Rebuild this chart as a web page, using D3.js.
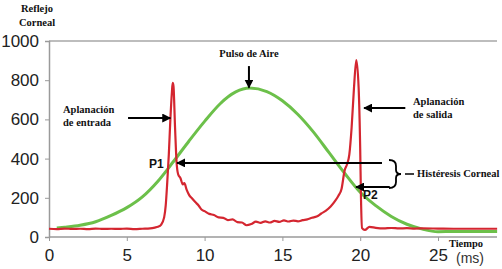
<!DOCTYPE html>
<html>
<head>
<meta charset="utf-8">
<script src="https://cdn.jsdelivr.net/npm/d3@7"></script>
<style>
  body { margin: 0; background: #fff; }
  svg { display: block; }
</style>
</head>
<body>
<svg id="chart" width="502" height="269"></svg>
<script>
// corneal reflex signal (red)
const redTime = [0, 0.5, 1, 1.5, 2, 2.5, 3, 3.5, 4, 4.5, 5, 5.5, 6, 6.5, 6.8, 7.0, 7.2, 7.4, 7.5, 7.6, 7.7, 7.8, 7.9, 7.95,
  8.0, 8.1, 8.2, 8.3, 8.45, 8.6, 8.7, 8.85, 9.0, 9.2, 9.4, 9.6, 9.8, 10.0, 10.3, 10.6, 10.9, 11.2, 11.5, 11.8,
  12.1, 12.4, 12.7, 13.0, 13.3, 13.6, 13.9, 14.2, 14.5, 14.8, 15.1, 15.4, 15.7, 16.0, 16.3, 16.6, 16.9, 17.2,
  17.5, 17.8, 18.1, 18.4, 18.6, 18.8, 19.0, 19.15, 19.3, 19.45, 19.6, 19.75, 19.9, 20.0, 20.05, 20.12, 20.3,
  20.6, 21, 21.5, 22, 22.5, 23, 23.5, 24, 25, 26, 27, 28.8];
const redValue = [42, 40, 43, 41, 42, 40, 43, 41, 42, 41, 43, 40, 42, 44, 48, 52, 62, 100, 160, 280, 420, 600, 740, 786,
  770, 560, 380, 320, 300, 268, 275, 240, 215, 196, 178, 162, 140, 132, 118, 112, 100, 98, 86, 90,
  76, 74, 60, 66, 78, 72, 80, 74, 82, 77, 85, 79, 84, 80, 86, 90, 98, 104,
  120, 134, 155, 185, 210, 245, 340, 370, 420, 560, 760, 903, 760, 450, 200, 45, 36,
  52, 47, 44, 46, 44, 45, 43, 44, 43, 42, 42, 42];

// air pulse (green)
const greenTime = [0.5, 1, 2, 3, 4, 5, 6, 7, 8, 9, 10, 11, 12, 12.9, 14, 15, 16, 17, 18, 19, 20, 21, 22, 23, 24, 25, 26, 27, 28.8];
const greenValue = [46, 50, 60, 78, 110, 150, 205, 285, 385, 490, 590, 680, 740, 760, 742, 695, 625, 535, 430, 325, 228, 160, 105, 65, 40, 27, 28, 28, 28];

const xTicks = [0, 5, 10, 15, 20, 25];
const yTicks = [0, 200, 400, 600, 800, 1000];

const svg = d3.select("#chart");

const x = d3.scaleLinear().domain([0, 25]).range([49, 438]);
const y = d3.scaleLinear().domain([0, 1000]).range([237, 41]);
const xEnd = 497;

// frame
svg.append("line")
  .attr("x1", x(0)).attr("x2", xEnd)
  .attr("y1", y(1000)).attr("y2", y(1000))
  .attr("stroke", "#bdbdbd").attr("stroke-width", 2);

const yAxis = svg.append("g")
  .attr("transform", `translate(${x(0)},0)`)
  .call(d3.axisLeft(y).tickValues(yTicks).tickSize(4).tickPadding(6).tickFormat(d3.format("d")));
yAxis.select(".domain").attr("stroke", "#9a9a9a").attr("stroke-width", 1.5);
yAxis.selectAll(".tick line").attr("stroke", "#9a9a9a");
yAxis.selectAll("text")
  .style("font-family", "Liberation Sans, Arial, sans-serif")
  .style("font-size", "17px")
  .attr("fill", "#222");

const xAxis = svg.append("g")
  .attr("transform", `translate(0,${y(0)})`)
  .call(d3.axisBottom(x).tickValues(xTicks).tickSize(4).tickPadding(8));
xAxis.select(".domain").attr("d", `M${x(0)},0H${xEnd}`).attr("stroke", "#9a9a9a").attr("stroke-width", 1.5);
xAxis.selectAll(".tick line").attr("stroke", "#9a9a9a");
xAxis.selectAll("text")
  .style("font-family", "Liberation Sans, Arial, sans-serif")
  .style("font-size", "17px")
  .attr("fill", "#222");

// curves
const line = d3.line().x(d => x(d[0])).y(d => y(d[1])).curve(d3.curveMonotoneX);

svg.append("path")
  .datum(d3.zip(greenTime, greenValue))
  .attr("d", line)
  .attr("fill", "none")
  .attr("stroke", "#6cc04a")
  .attr("stroke-width", 3);

svg.append("path")
  .datum(d3.zip(redTime, redValue))
  .attr("d", line)
  .attr("fill", "none")
  .attr("stroke", "#d42630")
  .attr("stroke-width", 2.2)
  .attr("stroke-linejoin", "round");

// annotations
svg.append("defs").append("marker")
  .attr("id", "head")
  .attr("viewBox", "0 0 10 10")
  .attr("refX", 9).attr("refY", 5)
  .attr("markerWidth", 9).attr("markerHeight", 9)
  .attr("markerUnits", "userSpaceOnUse")
  .attr("orient", "auto")
  .append("path").attr("d", "M0,0L10,5L0,10z").attr("fill", "#000");

function arrow(t1, v1, t2, v2) {
  svg.append("line")
    .attr("x1", x(t1)).attr("y1", y(v1))
    .attr("x2", x(t2)).attr("y2", y(v2))
    .attr("stroke", "#000").attr("stroke-width", 2)
    .attr("marker-end", "url(#head)");
}

arrow(5.08, 607, 7.8, 607);     // entrada
arrow(22.9, 658, 20.25, 658);   // salida
arrow(12.85, 872, 12.85, 762);  // pulso
arrow(21.4, 378, 8.23, 378);    // hysteresis line to P1
arrow(21.9, 255, 19.73, 255);   // P2

const serif = "Liberation Serif, Times New Roman, serif";
function label(px, py, str, size, anchor) {
  svg.append("text")
    .attr("x", px).attr("y", py)
    .attr("text-anchor", anchor || "start")
    .style("font-family", serif)
    .style("font-weight", "bold")
    .style("font-size", size + "px")
    .attr("fill", "#111")
    .text(str);
}

label(37, 12, "Reflejo", 10.5, "middle");
label(37, 26, "Corneal", 10.5, "middle");
label(63, 113, "Aplanación", 10.5);
label(63, 126, "de entrada", 10.5);
label(413, 105, "Aplanación", 10.5);
label(413, 118, "de salida", 10.5);
label(x(12.85), 57, "Pulso de Aire", 10.5, "middle");
label(417, 177, "Histéresis Corneal", 10.5);
label(466, 247, "Tiempo", 10.5, "middle");

svg.append("text")
  .attr("x", 470).attr("y", 263)
  .attr("text-anchor", "middle")
  .style("font-family", "Liberation Sans, Arial, sans-serif")
  .style("font-size", "14px")
  .attr("fill", "#333")
  .text("(ms)");

function sansBold(px, py, str) {
  svg.append("text")
    .attr("x", px).attr("y", py)
    .style("font-family", "Liberation Sans, Arial, sans-serif")
    .style("font-weight", "bold")
    .style("font-size", "12px")
    .attr("fill", "#111")
    .text(str);
}
sansBold(149, 168, "P1");
sansBold(363, 199, "P2");

// brace
const bx = 389, by0 = 160, by1 = 188, bm = (by0 + by1) / 2;
svg.append("path")
  .attr("d", `M${bx},${by0} Q${bx + 7},${by0} ${bx + 7},${by0 + 6} L${bx + 7},${bm - 4} Q${bx + 7},${bm} ${bx + 12},${bm}
    Q${bx + 7},${bm} ${bx + 7},${bm + 4} L${bx + 7},${by1 - 6} Q${bx + 7},${by1} ${bx},${by1}`)
  .attr("fill", "none").attr("stroke", "#000").attr("stroke-width", 1.8);
svg.append("line")
  .attr("x1", 405).attr("x2", 414).attr("y1", bm).attr("y2", bm)
  .attr("stroke", "#000").attr("stroke-width", 1.5);
</script>
</body>
</html>
